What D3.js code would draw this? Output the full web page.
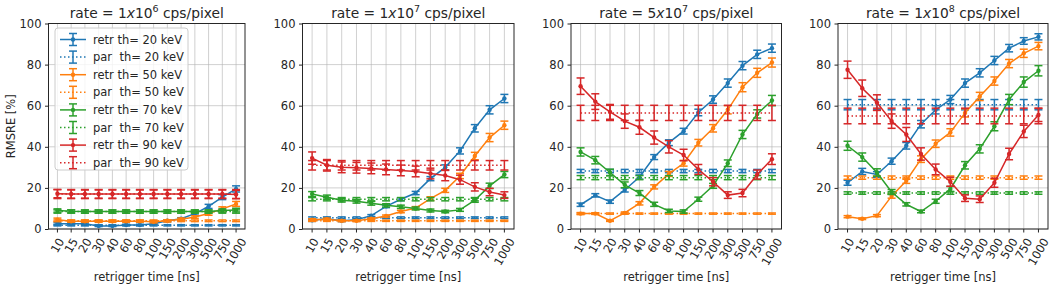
<!DOCTYPE html>
<html>
<head>
<meta charset="utf-8">
<script src="https://cdn.jsdelivr.net/npm/d3@7"></script>
<style>
body { margin: 0; background: #fff; }
text { font-family: "DejaVu Sans", sans-serif; fill: #262626; }
</style>
</head>
<body>
<div id="chart"></div>
<script>
// retrigger times (categories on x)
var retrigger = ["10", "15", "20", "30", "40", "60", "80", "100", "150", "200", "300", "500", "750", "1000"];
var thresholds = [20, 50, 70, 90];
var colors = ["#1f77b4", "#ff7f0e", "#2ca02c", "#d62728"];
var rateMant = ["1", "1", "5", "1"];
var rateExp = ["6", "7", "7", "8"];
var yTicks = [0, 20, 40, 60, 80, 100];

// rate = 1e6  (rows: th 20, 50, 70, 90)
var retr_1e6 = [
    [2.5, 2.5, 2.5, 1.5, 1.5, 2, 2, 2.5, 4, 5, 7.5, 11, 15.5, 19.5],
    [4.5, 3.8, 3.8, 3.8, 3.8, 3.8, 3.8, 3.5, 4, 4.8, 5.8, 7.5, 9.8, 12.2],
    [9, 8.6, 8.5, 8.5, 8.5, 8.5, 8.5, 8.5, 8.5, 8.5, 8.5, 8.5, 9, 9.2],
    [17.2, 17, 17, 17, 17, 17, 17, 17, 17, 17, 17, 17, 17, 16.8]
];
var retrErr_1e6 = [
    [0.5, 0.4, 0.4, 0.3, 0.3, 0.3, 0.3, 0.4, 0.5, 0.5, 0.7, 1, 1.2, 1.5],
    [0.8, 0.5, 0.5, 0.5, 0.5, 0.5, 0.5, 0.5, 0.5, 0.5, 0.6, 0.8, 1, 1.2],
    [0.8, 0.7, 0.7, 0.7, 0.7, 0.7, 0.7, 0.7, 0.7, 0.7, 0.7, 0.7, 0.8, 0.9],
    [2, 2, 2, 2, 2, 2, 2, 2, 2, 2, 2, 2, 2, 2]
];
var par_1e6 = [1.8, 4, 8.5, 17];
var parErr_1e6 = [0.3, 0.4, 0.8, 2.2];

// rate = 1e7
var retr_1e7 = [
    [4.2, 5, 4, 4.5, 6.5, 11, 14.5, 17.5, 24.5, 30, 38, 49, 58, 63.5],
    [4.5, 4.8, 4, 4, 5, 6.3, 8.5, 10.2, 14.8, 18.8, 25.8, 35.5, 44.5, 50.5],
    [17, 15.5, 14, 13.5, 12.5, 11.5, 10.8, 10, 9, 8.5, 9.3, 14, 21, 26.5],
    [34.5, 31, 30, 29.8, 29.5, 29, 28.5, 28, 27, 26, 24, 20.5, 18, 16.5]
];
var retrErr_1e7 = [
    [0.5, 0.5, 0.4, 0.4, 0.5, 0.6, 0.7, 0.8, 1, 1.2, 1.5, 1.8, 2, 2],
    [0.5, 0.5, 0.4, 0.4, 0.4, 0.5, 0.6, 0.7, 0.9, 1, 1.3, 1.8, 2, 2],
    [1.2, 1, 0.9, 0.9, 0.9, 0.8, 0.8, 0.7, 0.7, 0.6, 0.7, 1, 1.3, 1.5],
    [3, 2.8, 2.6, 2.6, 2.6, 2.6, 2.6, 2.6, 2.6, 2.5, 2.2, 2, 1.8, 1.6]
];
var par_1e7 = [5.5, 4, 14.5, 31];
var parErr_1e7 = [0.4, 0.3, 0.8, 2.3];

// rate = 5e7
var retr_5e7 = [
    [11.8, 16.4, 13.3, 19, 25.3, 35, 42, 47.6, 56.7, 63, 71, 79.5, 85, 88],
    [7.5, 7.5, 4, 7.8, 12.5, 20.5, 26.8, 32, 42, 49, 58, 69, 76, 81],
    [37.5, 33.5, 27.5, 21.5, 17.5, 12, 8.8, 8.5, 14.5, 21, 32, 46, 56, 62.5],
    [69.5, 62, 57, 52.5, 49.5, 44.5, 40, 36, 29, 23, 16.5, 17.5, 26.5, 34]
];
var retrErr_5e7 = [
    [0.8, 0.8, 0.8, 1, 1, 1.2, 1.4, 1.4, 1.6, 1.8, 2, 2, 2, 2],
    [0.5, 0.4, 0.3, 0.5, 0.8, 1, 1.2, 1.4, 1.6, 1.8, 2, 2.2, 2.2, 2.2],
    [2, 1.8, 1.6, 1.4, 1.2, 1, 0.8, 0.8, 1, 1.2, 1.6, 2, 2, 2.5],
    [4, 3.8, 3.6, 3.5, 3.4, 3.2, 3, 2.8, 2.4, 2, 1.6, 1.8, 2.2, 2.6]
];
var par_5e7 = [28.2, 7.5, 25, 56.5];
var parErr_5e7 = [0.8, 0.3, 1, 3.7];

// rate = 1e8
var retr_1e8 = [
    [22.5, 28, 26.5, 33, 40.5, 51, 58, 63, 71, 76, 82, 88, 91.5, 93.5],
    [6, 5, 6.5, 16, 23.5, 34, 41.5, 47, 56.5, 64.5, 72, 80.5, 85.5, 89],
    [40.5, 35, 27.5, 18, 12, 8.5, 13.5, 19.5, 31, 39, 50, 63, 71.5, 77],
    [77.5, 68.5, 61.5, 52.5, 46, 36.5, 29, 23, 15, 14.5, 22.5, 36.5, 47.5, 55.5]
];
var retrErr_1e8 = [
    [1.2, 1.5, 1.4, 1.5, 1.6, 1.8, 2, 2, 2, 2, 2, 1.8, 1.6, 1.5],
    [0.5, 0.4, 0.5, 1, 1.3, 1.6, 1.8, 1.8, 2, 2, 2, 2, 2, 1.8],
    [2.2, 2, 1.8, 1.2, 0.8, 0.6, 1, 1.2, 1.8, 2, 2.2, 2.5, 2.5, 2.5],
    [4.2, 4, 3.8, 3.5, 3.4, 3, 2.6, 2.2, 1.6, 1.6, 2.2, 2.8, 3, 3.2]
];
var par_1e8 = [60.5, 25, 17.5, 55];
var parErr_1e8 = [2.5, 0.8, 0.6, 3.8];

var panels = [
    {retr: retr_1e6, retrErr: retrErr_1e6, par: par_1e6, parErr: parErr_1e6},
    {retr: retr_1e7, retrErr: retrErr_1e7, par: par_1e7, parErr: parErr_1e7},
    {retr: retr_5e7, retrErr: retrErr_5e7, par: par_5e7, parErr: parErr_5e7},
    {retr: retr_1e8, retrErr: retrErr_1e8, par: par_1e8, parErr: parErr_1e8}
];

var W = 1052, H = 287;
var plotTop = 23.5, plotBottom = 229;
var panelX = [[48.5, 245], [302.5, 514], [571, 781.5], [838, 1048]];
var fs = 11.5, cap = 4;

var svg = d3.select("#chart").append("svg")
    .attr("width", W)
    .attr("height", H);

var y = d3.scaleLinear().domain([0, 100]).range([plotBottom, plotTop]);

panels.forEach(function(p, pi) {
    var x0 = panelX[pi][0], x1 = panelX[pi][1];
    var x = d3.scalePoint().domain(retrigger).range([x0, x1]).padding(0.65);
    var g = svg.append("g");

    // grid
    g.selectAll(".gx").data(retrigger).enter().append("line")
        .attr("x1", function(d) { return x(d); }).attr("x2", function(d) { return x(d); })
        .attr("y1", plotTop).attr("y2", plotBottom)
        .attr("stroke", "#b0b0b0").attr("stroke-opacity", 0.6).attr("stroke-width", 1);
    g.selectAll(".gy").data(yTicks).enter().append("line")
        .attr("x1", x0).attr("x2", x1)
        .attr("y1", function(d) { return y(d); }).attr("y2", function(d) { return y(d); })
        .attr("stroke", "#b0b0b0").attr("stroke-opacity", 0.6).attr("stroke-width", 1);

    // series
    thresholds.forEach(function(th, k) {
        var col = colors[k];
        var vals = p.retr[k], errs = p.retrErr[k];
        var line = d3.line().x(function(d, i) { return x(retrigger[i]); }).y(function(d) { return y(d); });
        g.append("path").datum(vals).attr("d", line)
            .attr("fill", "none").attr("stroke", col).attr("stroke-width", 1.5);
        drawErr(g, x, vals, errs, col);
        g.selectAll(".m" + k).data(vals).enter().append("circle")
            .attr("cx", function(d, i) { return x(retrigger[i]); })
            .attr("cy", function(d) { return y(d); })
            .attr("r", 2.2).attr("fill", col);

        // parallel value: same for every retrigger time
        var pv = retrigger.map(function() { return p.par[k]; });
        var pe = retrigger.map(function() { return p.parErr[k]; });
        g.append("path").datum(pv).attr("d", line)
            .attr("fill", "none").attr("stroke", col).attr("stroke-width", 1.5)
            .attr("stroke-dasharray", "1.5,2.5");
        drawErr(g, x, pv, pe, col);
    });

    // spines
    g.append("rect").attr("x", x0).attr("y", plotTop)
        .attr("width", x1 - x0).attr("height", plotBottom - plotTop)
        .attr("fill", "none").attr("stroke", "#262626").attr("stroke-width", 1);

    // y axis
    var ya = g.append("g").attr("transform", "translate(" + x0 + ",0)")
        .call(d3.axisLeft(y).tickValues(yTicks).tickSize(3.5).tickPadding(3.5));
    ya.select(".domain").remove();
    ya.selectAll("text").attr("font-size", fs).style("font-family", "DejaVu Sans").attr("fill", "#262626");
    ya.selectAll("line").attr("stroke", "#262626");

    // x ticks
    g.selectAll(".xt").data(retrigger).enter().append("line")
        .attr("x1", function(d) { return x(d); }).attr("x2", function(d) { return x(d); })
        .attr("y1", plotBottom).attr("y2", plotBottom + 3.5)
        .attr("stroke", "#262626");
    g.selectAll(".xl").data(retrigger).enter().append("text")
        .attr("font-size", fs)
        .attr("text-anchor", "middle")
        .attr("dominant-baseline", "central")
        .text(function(d) { return d; })
        .each(function(d) {
            var len = this.getComputedTextLength();
            var a = Math.PI / 3;
            var hgt = len * Math.sin(a) + fs * 0.9 * Math.cos(a);
            var cy = plotBottom + 7.5 + hgt / 2;
            d3.select(this).attr("transform", "translate(" + x(d) + "," + cy + ") rotate(-60)");
        });

    // x label
    g.append("text").attr("x", (x0 + x1) / 2).attr("y", 281)
        .attr("text-anchor", "middle").attr("font-size", fs)
        .text("retrigger time [ns]");

    // title
    var t = g.append("text").attr("x", (x0 + x1) / 2).attr("y", 17.5)
        .attr("text-anchor", "middle").attr("font-size", 13.8);
    t.append("tspan").text("rate = " + rateMant[pi]);
    t.append("tspan").attr("font-style", "italic").text("x");
    t.append("tspan").text("10");
    t.append("tspan").attr("dy", -6).attr("font-size", 9.5).text(rateExp[pi]);
    t.append("tspan").attr("dy", 6).text(" cps/pixel");
});

function drawErr(g, x, vals, errs, col) {
    vals.forEach(function(v, i) {
        var cx = x(retrigger[i]);
        var lo = y(v - errs[i]), hi = y(v + errs[i]);
        g.append("line").attr("x1", cx).attr("x2", cx).attr("y1", lo).attr("y2", hi)
            .attr("stroke", col).attr("stroke-width", 1.5);
        [lo, hi].forEach(function(yy) {
            g.append("line").attr("x1", cx - cap).attr("x2", cx + cap).attr("y1", yy).attr("y2", yy)
                .attr("stroke", col).attr("stroke-width", 1.5);
        });
    });
}

// y label (first panel only)
svg.append("text")
    .attr("transform", "translate(15," + ((plotTop + plotBottom) / 2) + ") rotate(-90)")
    .attr("text-anchor", "middle").attr("font-size", fs)
    .text("RMSRE [%]");

// legend
var leg = svg.append("g");
leg.append("rect").attr("x", 55).attr("y", 28).attr("width", 133).attr("height", 142)
    .attr("rx", 3).attr("fill", "#fff").attr("fill-opacity", 0.8)
    .attr("stroke", "#cccccc").attr("stroke-width", 1);
thresholds.forEach(function(th, k) {
    ["retr th= ", "par  th= "].forEach(function(lab, j) {
        var row = k * 2 + j;
        var ly = 39.5 + row * 17.6;
        var col = colors[k];
        var ln = leg.append("line").attr("x1", 60).attr("x2", 86).attr("y1", ly).attr("y2", ly)
            .attr("stroke", col).attr("stroke-width", 1.5);
        if (j === 1) ln.attr("stroke-dasharray", "1.5,2.5");
        leg.append("line").attr("x1", 73).attr("x2", 73).attr("y1", ly - 6).attr("y2", ly + 6)
            .attr("stroke", col).attr("stroke-width", 1.5);
        [ly - 6, ly + 6].forEach(function(yy) {
            leg.append("line").attr("x1", 73 - cap).attr("x2", 73 + cap).attr("y1", yy).attr("y2", yy)
                .attr("stroke", col).attr("stroke-width", 1.5);
        });
        if (j === 0) leg.append("circle").attr("cx", 73).attr("cy", ly).attr("r", 2.2).attr("fill", col);
        leg.append("text").attr("x", 93).attr("y", ly).attr("dy", "0.35em")
            .attr("font-size", fs).style("white-space", "pre")
            .text(lab + th + " keV");
    });
});
</script>
</body>
</html>
